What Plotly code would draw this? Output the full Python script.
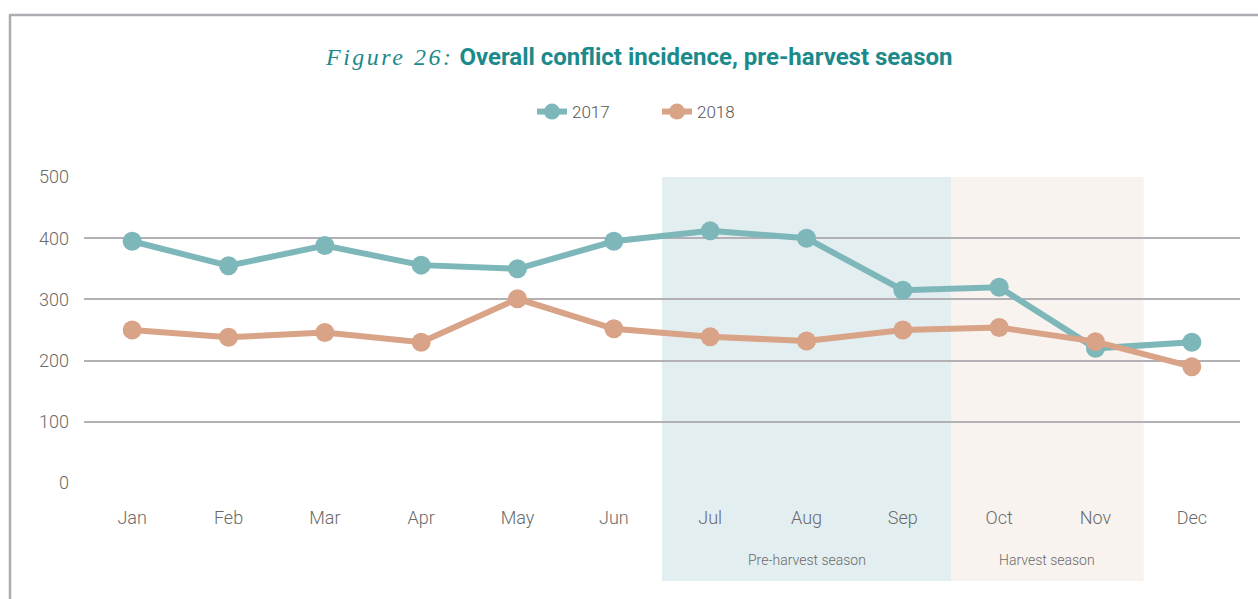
import plotly.graph_objects as go

months = ["Jan", "Feb", "Mar", "Apr", "May", "Jun", "Jul", "Aug", "Sep", "Oct", "Nov", "Dec"]
values_2017 = [395, 355, 388, 356, 350, 395, 412, 400, 315, 320, 220, 230]
values_2018 = [250, 238, 246, 230, 301, 252, 239, 232, 250, 254, 231, 190]
y_ticks = [0, 100, 200, 300, 400, 500]
seasons = [("Pre-harvest season", "Jul", "Sep", "#e3eef0"), ("Harvest season", "Oct", "Nov", "#f8f3ef")]

C17 = "#7db7ba"
C18 = "#d9a387"
W, H = 1258, 599
L, R, T, B = 84, 18, 177, 116
pw, ph = W - L - R, H - T - B

def px_x(p):
    return (p - L) / pw

def px_y(p):
    return (H - B - p) / ph

fig = go.Figure()
fig.add_trace(go.Scatter(x=months, y=values_2017, name="2017", mode="lines+markers",
                         line=dict(color=C17, width=6), marker=dict(color=C17, size=19)))
fig.add_trace(go.Scatter(x=months, y=values_2018, name="2018", mode="lines+markers",
                         line=dict(color=C18, width=6), marker=dict(color=C18, size=19)))

shapes = []
annotations = []
for label, m0, m1, col in seasons:
    i0, i1 = months.index(m0), months.index(m1)
    shapes.append(dict(type="rect", xref="x", yref="paper", x0=i0 - 0.5, x1=i1 + 0.5,
                       y0=px_y(581), y1=1, fillcolor=col, line=dict(width=0), layer="below"))
    annotations.append(dict(xref="x", yref="paper", x=(i0 + i1) / 2, y=px_y(560), text=label,
                            showarrow=False, xanchor="center", yanchor="middle",
                            font=dict(family="Roboto", size=14, color="#6a6a6a", weight=300)))

# frame lines
shapes.append(dict(type="line", xref="paper", yref="paper", x0=px_x(10), x1=px_x(10),
                   y0=px_y(15), y1=px_y(H + 5), line=dict(color="#aeacb2", width=2.5)))
shapes.append(dict(type="line", xref="paper", yref="paper", x0=px_x(9), x1=px_x(W + 5),
                   y0=px_y(15), y1=px_y(15), line=dict(color="#aeacb2", width=2.5)))

annotations.append(dict(xref="paper", yref="paper", x=px_x(638), y=px_y(57), xanchor="center", yanchor="middle",
                        showarrow=False,
                        text="<span style=\"font-family:'Liberation Serif';font-style:italic;font-weight:normal;letter-spacing:2.5px\">Figure 26:</span> "
                             "<b>Overall conflict incidence, pre-harvest season</b>",
                        font=dict(family="Roboto", size=24, color="#1c8a8b")))

fig.update_layout(
    width=W, height=H,
    margin=dict(l=L, r=R, t=T, b=B),
    paper_bgcolor="white", plot_bgcolor="rgba(0,0,0,0)",
    shapes=shapes, annotations=annotations,
    showlegend=True,
    legend=dict(orientation="h", x=px_x(657), xanchor="center", y=px_y(112), yanchor="middle",
                font=dict(family="Roboto", size=17, color="#555555", weight=300),
                entrywidth=80, entrywidthmode="pixels", itemwidth=30, traceorder="normal"),
    xaxis=dict(type="category", range=[-0.5, 11.5], showgrid=False, zeroline=False, showline=False,
               ticks="", ticklabelstandoff=22,
               tickfont=dict(family="Roboto", size=18, color="#6a6a6a", weight=300)),
    yaxis=dict(range=[0, 500], tickvals=y_ticks, showgrid=True, gridcolor="#b3b1b6", gridwidth=2,
               zeroline=False, showline=False, ticks="", ticklabelstandoff=14,
               tickfont=dict(family="Roboto", size=18, color="#6a6a6a", weight=300)),
)

fig.write_html("out.html", config={"displayModeBar": False},
               post_script="document.body.style.margin='0';document.body.style.overflow='hidden';")
